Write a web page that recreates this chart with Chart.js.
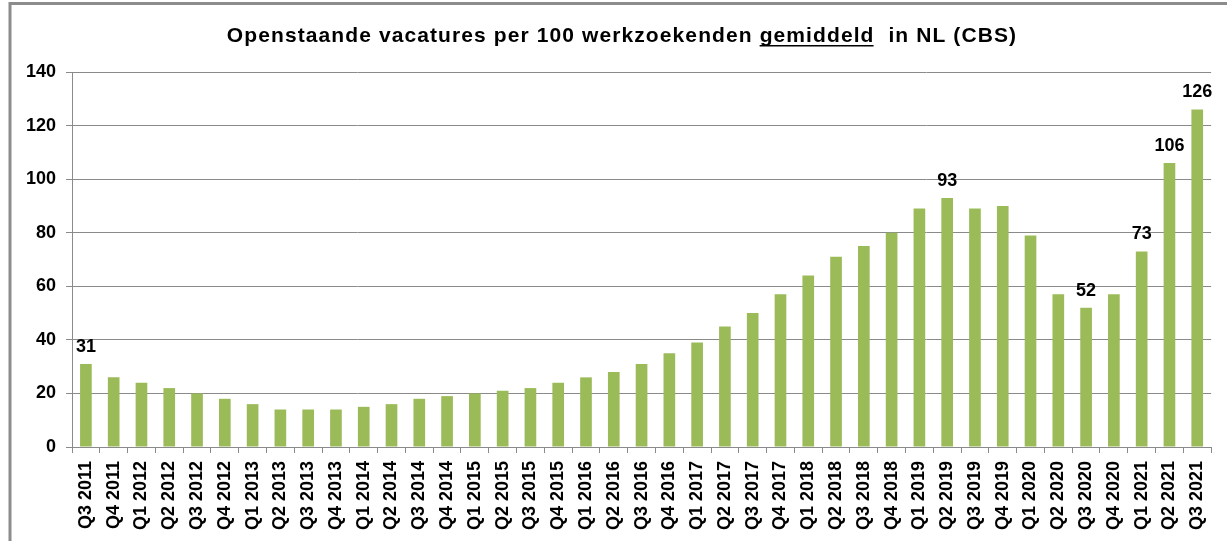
<!DOCTYPE html>
<html>
<head>
<meta charset="utf-8">
<script src="https://cdn.jsdelivr.net/npm/chart.js@4/dist/chart.umd.min.js"></script>
<style>
  html, body { margin: 0; padding: 0; background: #fff; }
  #wrap { width: 1227px; height: 541px; position: relative; }
</style>
</head>
<body>
<div id="wrap"><canvas id="chart" width="1227" height="541"></canvas></div>
<script>
const quarters = [
  "Q3 2011", "Q4 2011",
  "Q1 2012", "Q2 2012", "Q3 2012", "Q4 2012",
  "Q1 2013", "Q2 2013", "Q3 2013", "Q4 2013",
  "Q1 2014", "Q2 2014", "Q3 2014", "Q4 2014",
  "Q1 2015", "Q2 2015", "Q3 2015", "Q4 2015",
  "Q1 2016", "Q2 2016", "Q3 2016", "Q4 2016",
  "Q1 2017", "Q2 2017", "Q3 2017", "Q4 2017",
  "Q1 2018", "Q2 2018", "Q3 2018", "Q4 2018",
  "Q1 2019", "Q2 2019", "Q3 2019", "Q4 2019",
  "Q1 2020", "Q2 2020", "Q3 2020", "Q4 2020",
  "Q1 2021", "Q2 2021", "Q3 2021"
];
const vacatures = [
  31, 26,
  24, 22, 20, 18,
  16, 14, 14, 14,
  15, 16, 18, 19,
  20, 21, 22, 24,
  26, 28, 31, 35,
  39, 45, 50, 57,
  64, 71, 75, 80,
  89, 93, 89, 90,
  79, 57, 52, 57,
  73, 106, 126
];
// only these bars carry a value label
const labelledQuarters = ["Q3 2011", "Q2 2019", "Q3 2020", "Q1 2021", "Q2 2021", "Q3 2021"];
const yTicks = [0, 20, 40, 60, 80, 100, 120, 140];

const titleParts = [
  { text: "Openstaande vacatures per 100 werkzoekenden ", underline: false },
  { text: "gemiddeld", underline: true },
  { text: "  in NL (CBS)", underline: false }
];

const FONT = "'Liberation Sans', Arial, sans-serif";
const GRID = "#8a8a8a";

const framePlugin = {
  id: "frame",
  beforeDraw(chart) {
    const ctx = chart.ctx;
    ctx.save();
    ctx.fillStyle = "#fff";
    ctx.fillRect(0, 0, chart.width, chart.height);
    ctx.strokeStyle = "#8c8c8c";
    ctx.lineWidth = 3;
    ctx.beginPath();
    ctx.moveTo(10, chart.height + 5);
    ctx.lineTo(10, 3.5);
    ctx.lineTo(chart.width + 5, 3.5);
    ctx.stroke();
    ctx.restore();
  }
};

const titlePlugin = {
  id: "underlinedTitle",
  afterDraw(chart) {
    const ctx = chart.ctx;
    ctx.save();
    ctx.font = "bold 21px " + FONT;
    ctx.letterSpacing = "1.1px";
    ctx.fillStyle = "#000";
    ctx.textBaseline = "alphabetic";
    ctx.textAlign = "left";
    const total = titleParts.reduce((s, p) => s + ctx.measureText(p.text).width, 0);
    let x = 622 - total / 2;
    const y = 42;
    titleParts.forEach(p => {
      const w = ctx.measureText(p.text).width;
      ctx.fillText(p.text, x, y);
      if (p.underline) {
        ctx.fillRect(x, y + 3, w - 1, 1.5);
      }
      x += w;
    });
    ctx.restore();
  }
};

const valueLabelPlugin = {
  id: "valueLabels",
  afterDatasetsDraw(chart) {
    const ctx = chart.ctx;
    const meta = chart.getDatasetMeta(0);
    ctx.save();
    ctx.font = "bold 18px " + FONT;
    ctx.fillStyle = "#000";
    ctx.textAlign = "center";
    ctx.textBaseline = "bottom";
    meta.data.forEach((bar, i) => {
      if (!labelledQuarters.includes(quarters[i])) return;
      ctx.fillText(String(vacatures[i]), bar.x, bar.y - 8);
    });
    ctx.restore();
  }
};

new Chart(document.getElementById("chart"), {
  type: "bar",
  data: {
    labels: quarters,
    datasets: [
      {
        data: vacatures,
        backgroundColor: "#9bbb59",
        borderWidth: 0,
        barPercentage: 0.42,
        categoryPercentage: 1
      }
    ]
  },
  options: {
    responsive: false,
    animation: false,
    layout: { padding: { left: 12, right: 14, top: 72, bottom: 0 } },
    plugins: {
      legend: { display: false },
      title: { display: false },
      tooltip: { enabled: false }
    },
    scales: {
      x: {
        offset: true,
        grid: {
          offset: true,
          drawOnChartArea: false,
          color: GRID,
          tickLength: 6
        },
        border: { color: GRID, width: 1 },
        ticks: {
          autoSkip: false,
          maxRotation: 90,
          minRotation: 90,
          padding: 8,
          color: "#000",
          font: { family: FONT, size: 18, weight: "bold" }
        },
        afterFit(scale) { scale.height = 541 - 447; }
      },
      y: {
        min: 0,
        max: 140,
        afterBuildTicks(scale) { scale.ticks = yTicks.map(v => ({ value: v })); },
        grid: { color: GRID, tickLength: 6 },
        border: { color: GRID, width: 1 },
        ticks: {
          padding: 10,
          color: "#000",
          font: { family: FONT, size: 18, weight: "bold" }
        },
        afterFit(scale) { scale.width = 72 - 12; }
      }
    }
  },
  plugins: [framePlugin, titlePlugin, valueLabelPlugin]
});
</script>
</body>
</html>
